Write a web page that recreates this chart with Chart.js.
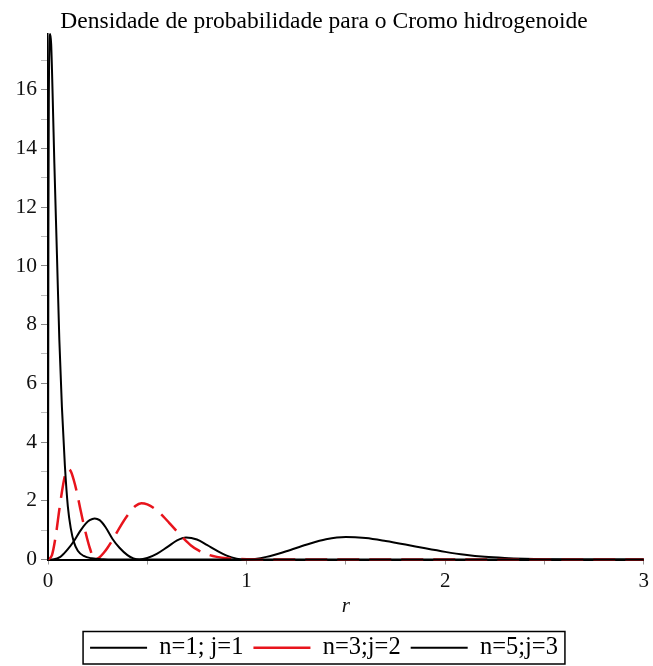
<!DOCTYPE html>
<html>
<head>
<meta charset="utf-8">
<style>
  html, body { margin: 0; padding: 0; background: #fff; }
  #wrap { width: 653px; height: 666px; }
</style>
<script src="https://cdn.jsdelivr.net/npm/chart.js@4/dist/chart.umd.min.js"></script>
</head>
<body>
<div id="wrap"><canvas id="c" width="653" height="666"></canvas></div>
<script>
// Radial probability density
const r1 = [0, 0.001, 0.002, 0.004, 0.007, 0.011, 0.016, 0.02, 0.026, 0.032, 0.045, 0.057, 0.07, 0.085, 0.1, 0.115, 0.13, 0.15, 0.18, 0.22, 0.28, 0.4, 1.0, 3.0];
const d1 = [0, 5, 11, 15.5, 17.4, 17.9, 17.55, 16.7, 15.1, 13.5, 10.4, 7.5, 5.2, 3.2, 1.8, 1.05, 0.6, 0.3, 0.12, 0.04, 0.01, 0, 0, 0];

const r3 = [0, 0.02, 0.04, 0.055, 0.07, 0.085, 0.1, 0.115, 0.13, 0.145, 0.165, 0.19, 0.21, 0.235, 0.26, 0.28, 0.3, 0.33, 0.36, 0.4, 0.44, 0.47, 0.5, 0.54, 0.58, 0.61, 0.65, 0.685, 0.72, 0.76, 0.8, 0.85, 0.9, 1.0, 1.2, 1.5, 3.0];
const d3 = [0, 0.15, 0.85, 1.6, 2.3, 2.85, 3.08, 3.0, 2.7, 2.3, 1.65, 0.9, 0.4, 0, 0.08, 0.22, 0.4, 0.72, 1.08, 1.5, 1.82, 1.92, 1.88, 1.72, 1.47, 1.25, 0.95, 0.7, 0.48, 0.3, 0.18, 0.09, 0.04, 0.01, 0.002, 0, 0];

const r5 = [0, 0.03, 0.06, 0.08, 0.1, 0.13, 0.16, 0.19, 0.21, 0.235, 0.26, 0.29, 0.325, 0.36, 0.4, 0.43, 0.46, 0.5, 0.55, 0.6, 0.65, 0.695, 0.75, 0.8, 0.85, 0.9, 0.95, 1.0, 1.1, 1.2, 1.3, 1.4, 1.5, 1.6, 1.7, 1.8, 1.9, 2.0, 2.1, 2.2, 2.3, 2.4, 2.5, 2.7, 3.0];
const d5 = [0, 0.01, 0.08, 0.2, 0.35, 0.62, 0.95, 1.22, 1.34, 1.4, 1.34, 1.1, 0.7, 0.4, 0.15, 0.04, 0, 0.05, 0.2, 0.42, 0.65, 0.75, 0.68, 0.5, 0.3, 0.13, 0.03, 0, 0.09, 0.28, 0.5, 0.69, 0.77, 0.73, 0.63, 0.51, 0.38, 0.26, 0.16, 0.09, 0.05, 0.025, 0.01, 0, 0];

const seriesNames = ['n=1; j=1', 'n=3;j=2', 'n=5;j=3'];
const titleText = 'Densidade de probabilidade para o Cromo hidrogenoide';
const xTickValues = [0, 0.5, 1, 1.5, 2, 2.5, 3];
const yTickValues = [0, 1, 2, 3, 4, 5, 6, 7, 8, 9, 10, 11, 12, 13, 14, 15, 16, 17];

const pts = (xs, ys) => xs.map((x, i) => ({ x: x, y: ys[i] }));
const SERIF = "'Liberation Serif', 'DejaVu Serif', serif";

// Frame around the legend row
const legendFrame = {
  id: 'legendFrame',
  afterDraw(chart) {
    const boxes = chart.legend && chart.legend.legendHitBoxes;
    if (!boxes || !boxes.length) return;
    let l = Infinity, r = -Infinity, t = Infinity, b = -Infinity;
    boxes.forEach(h => {
      l = Math.min(l, h.left); r = Math.max(r, h.left + h.width);
      t = Math.min(t, h.top); b = Math.max(b, h.top + h.height);
    });
    const ctx = chart.ctx;
    ctx.save();
    ctx.strokeStyle = '#000';
    ctx.lineWidth = 1.5;
    ctx.strokeRect(l - 7, t - 4, (r - l) + 14, (b - t) + 8);
    ctx.restore();
  }
};

new Chart(document.getElementById('c'), {
  type: 'line',
  data: {
    datasets: [
      { label: seriesNames[0], data: pts(r1, d1), borderColor: '#000', borderWidth: 2 },
      { label: seriesNames[1], data: pts(r3, d3), borderColor: '#e8141c', borderWidth: 2.5, borderDash: [22, 10] },
      { label: seriesNames[2], data: pts(r5, d5), borderColor: '#000', borderWidth: 2 }
    ]
  },
  options: {
    responsive: false,
    animation: false,
    devicePixelRatio: 1,
    layout: { padding: { left: 0, right: 5, top: 0, bottom: -4 } },
    elements: {
      point: { radius: 0 },
      line: { cubicInterpolationMode: 'monotone', fill: false }
    },
    datasets: { line: { clip: false } },
    scales: {
      x: {
        type: 'linear',
        min: 0, max: 3,
        afterBuildTicks: s => { s.ticks = xTickValues.map(v => ({ value: v })); },
        afterFit: s => { s.height = 66; },
        ticks: {
          autoSkip: false, maxRotation: 0, padding: 4,
          font: { family: SERIF, size: 21 }, color: '#111',
          callback: v => (Number.isInteger(v) ? String(v) : '')
        },
        grid: { drawOnChartArea: false, drawTicks: true, tickLength: 5, tickColor: '#999', tickWidth: 1 },
        border: { display: true, color: '#000', width: 2 },
        title: {
          display: true, text: 'r',
          font: { family: SERIF, size: 21, style: 'italic' }, color: '#111',
          padding: { top: 0, bottom: 6 }
        }
      },
      y: {
        type: 'linear',
        min: 0, max: 17.9,
        afterBuildTicks: s => { s.ticks = yTickValues.map(v => ({ value: v })); },
        afterFit: s => { s.width = 48; },
        ticks: {
          autoSkip: false, padding: 4,
          font: { family: SERIF, size: 21.5 }, color: '#111',
          callback: v => (v % 2 === 0 ? String(v) : '')
        },
        grid: {
          drawOnChartArea: false, drawTicks: true, tickLength: 7, tickWidth: 1,
          tickColor: c => (c.tick && c.tick.value % 2 === 0 ? '#888' : '#bbb')
        },
        border: { display: true, color: '#000', width: 1.5 }
      }
    },
    plugins: {
      title: {
        display: true, text: titleText, color: '#000',
        font: { family: SERIF, size: 23.5, weight: 'normal', lineHeight: 1 },
        padding: { top: 10, bottom: 0.5 }
      },
      legend: {
        display: true, position: 'bottom',
        labels: {
          usePointStyle: true, pointStyle: 'line', pointStyleWidth: 57,
          font: { family: SERIF, size: 24.5 }, color: '#000', padding: 10
        }
      },
      tooltip: { enabled: false }
    }
  },
  plugins: [legendFrame]
});
</script>
</body>
</html>
